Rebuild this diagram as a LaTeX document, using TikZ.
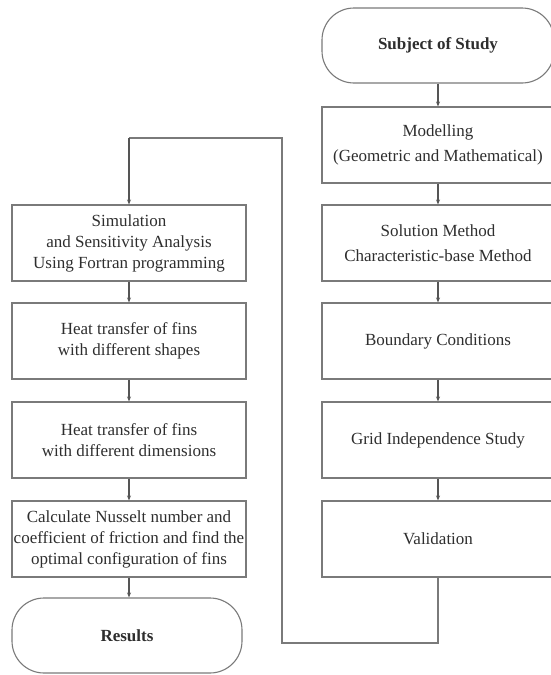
\documentclass[tikz,border=0pt]{standalone}
\usepackage{fontspec}
\setmainfont{Liberation Serif}
\usetikzlibrary{arrows.meta}
\definecolor{linegray}{HTML}{7A7A7A}
\definecolor{textgray}{HTML}{2E2E2E}
\begin{document}
\begin{tikzpicture}[x=1pt,y=-1pt,
  box/.style={draw=linegray,line width=1.1pt,rectangle,align=center,text=textgray,
    font=\fontsize{17}{21}\selectfont,inner sep=0pt},
  lbox/.style={box,minimum width=234pt,minimum height=76pt},
  rbox/.style={box,minimum width=232pt,minimum height=76pt},
  term/.style={draw=linegray,line width=1.1pt,rectangle,rounded corners=32pt,align=center,
    text=textgray,font=\fontsize{17}{21}\selectfont\bfseries,inner sep=0pt},
  flow/.style={draw=linegray!70!black,line width=1.1pt,-{Stealth[length=5pt,width=4pt]}},
  fb/.style={draw=linegray,line width=1.1pt}]
\useasboundingbox (0,0) rectangle (550,675);
% right column
\node[term,minimum width=232pt,minimum height=75pt] (subj) at (438,45.5) {Subject of Study};
\node[rbox] (model) at (438,145) {Modelling\\[4pt](Geometric and Mathematical)};
\node[rbox] (sol) at (438,243) {Solution Method\\[4pt]Characteristic-base Method};
\node[rbox] (bc) at (438,341) {Boundary Conditions};
\node[rbox] (grid) at (438,440) {Grid Independence Study};
\node[rbox] (val) at (438,539) {Validation};
% left column
\node[lbox] (sim) at (129,243) {Simulation\\and Sensitivity Analysis\\Using Fortran programming};
\node[lbox] (shapes) at (129,341) {Heat transfer of fins\\with different shapes};
\node[lbox] (dims) at (129,440) {Heat transfer of fins\\with different dimensions};
\node[lbox] (calc) at (129,539) {Calculate Nusselt number and\\coefficient of friction and find the\\optimal configuration of fins};
\node[term,minimum width=230pt,minimum height=75pt] (res) at (127,635.5) {Results};
% connectors
\draw[flow] (subj) -- (model);
\draw[flow] (model) -- (sol);
\draw[flow] (sol) -- (bc);
\draw[flow] (bc) -- (grid);
\draw[flow] (grid) -- (val);
\draw[flow] (sim) -- (shapes);
\draw[flow] (shapes) -- (dims);
\draw[flow] (dims) -- (calc);
\draw[flow] (calc.south) -- (calc.south |- res.north);
\coordinate (b1) at (438,643);
\coordinate (b2) at (282,643);
\coordinate (t1) at (282,138);
\coordinate (t2) at (129,138);
\draw[fb] (val.south) -- (b1) -- (b2) -- (t1) -- (t2);
\draw[flow] (t2) -- (sim.north);
\end{tikzpicture}
\end{document}
